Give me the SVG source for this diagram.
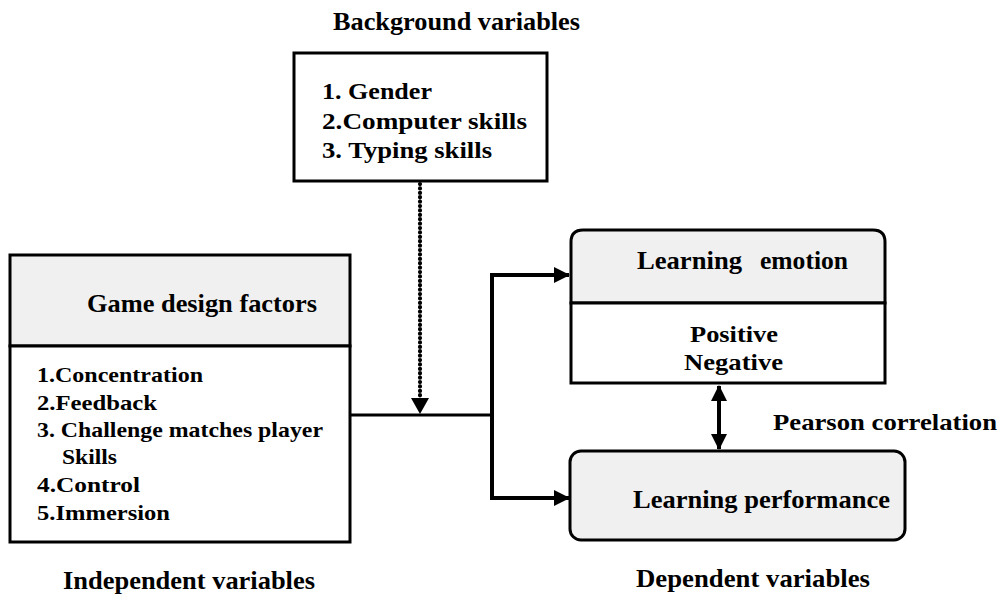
<svg xmlns="http://www.w3.org/2000/svg" width="1001" height="597" viewBox="0 0 1001 597">
<style>
text{font-family:"Liberation Serif","Times New Roman",serif;font-weight:bold;fill:#000}
.box{fill:#fff;stroke:#000;stroke-width:3}
.hdr{fill:#f0f0f0;stroke:#000;stroke-width:3}
.ln{fill:none;stroke:#000;stroke-width:3}
.thick{fill:none;stroke:#000;stroke-width:4}
.dot{fill:none;stroke:#000;stroke-width:4.2;stroke-linecap:round;stroke-dasharray:0.1 4.3}
</style>
<defs>
<marker id="ah" markerWidth="16" markerHeight="16" refX="15" refY="8" orient="auto" markerUnits="userSpaceOnUse">
<path d="M0,0 L16,8 L0,16 Z" fill="#000"/>
</marker>
<marker id="ahs" markerWidth="16" markerHeight="16" refX="15" refY="8" orient="auto-start-reverse" markerUnits="userSpaceOnUse">
<path d="M0,0 L16,8 L0,16 Z" fill="#000"/>
</marker>
</defs>

<text x="333" y="30" font-size="26" textLength="247" lengthAdjust="spacingAndGlyphs">Background variables</text>

<g id="background">
<rect class="box" x="294" y="53" width="253" height="128"/>
<text x="322" y="99" font-size="23" textLength="110" lengthAdjust="spacingAndGlyphs">1. Gender</text>
<text x="322" y="129" font-size="23" textLength="205" lengthAdjust="spacingAndGlyphs">2.Computer skills</text>
<text x="322" y="158" font-size="23" textLength="170" lengthAdjust="spacingAndGlyphs">3. Typing skills</text>
</g>

<g id="game-design">
<rect class="hdr" x="10" y="255" width="340" height="91"/>
<rect class="box" x="10" y="346" width="340" height="196"/>
<text x="87" y="312" font-size="26" textLength="230" lengthAdjust="spacingAndGlyphs">Game design factors</text>
<text x="37" y="382" font-size="21" textLength="166" lengthAdjust="spacingAndGlyphs">1.Concentration</text>
<text x="37" y="410" font-size="21" textLength="120" lengthAdjust="spacingAndGlyphs">2.Feedback</text>
<text x="37" y="437" font-size="21" textLength="286" lengthAdjust="spacingAndGlyphs">3. Challenge matches player</text>
<text x="62" y="464" font-size="21" textLength="55" lengthAdjust="spacingAndGlyphs">Skills</text>
<text x="37" y="492" font-size="21" textLength="103" lengthAdjust="spacingAndGlyphs">4.Control</text>
<text x="37" y="520" font-size="21" textLength="133" lengthAdjust="spacingAndGlyphs">5.Immersion</text>
</g>

<text x="63" y="589" font-size="25" textLength="252" lengthAdjust="spacingAndGlyphs">Independent variables</text>

<g id="learning-emotion">
<path class="hdr" d="M571,303 L571,242 Q571,230 583,230 L873,230 Q885,230 885,242 L885,303 Z"/>
<rect class="box" x="571" y="303" width="314" height="80"/>
<text x="637" y="269" font-size="26" textLength="105" lengthAdjust="spacingAndGlyphs">Learning</text>
<text x="760" y="269" font-size="26" textLength="88" lengthAdjust="spacingAndGlyphs">emotion</text>
<text x="690" y="342" font-size="24" textLength="88" lengthAdjust="spacingAndGlyphs">Positive</text>
<text x="684" y="370" font-size="24" textLength="99" lengthAdjust="spacingAndGlyphs">Negative</text>
</g>

<g id="learning-performance">
<rect class="hdr" x="570" y="451" width="335" height="89" rx="11" ry="11"/>
<text x="633" y="508" font-size="26" textLength="257" lengthAdjust="spacingAndGlyphs">Learning performance</text>
</g>

<text x="773" y="430" font-size="24" textLength="224" lengthAdjust="spacingAndGlyphs">Pearson  correlation</text>
<text x="636" y="587" font-size="25" textLength="234" lengthAdjust="spacingAndGlyphs">Dependent  variables</text>

<g id="connectors">
<path class="dot" d="M420,184 L420,397"/>
<path d="M411,398 L429,398 L420,414 Z" fill="#000"/>
<path class="ln" d="M350,415 L492,415"/>
<path class="thick" d="M492,415 L492,275 L569,275" marker-end="url(#ah)"/>
<path class="thick" d="M492,415 L492,498 L569,498" marker-end="url(#ah)"/>
<path class="thick" d="M719,386 L719,449" marker-start="url(#ahs)" marker-end="url(#ahs)"/>
</g>
</svg>
